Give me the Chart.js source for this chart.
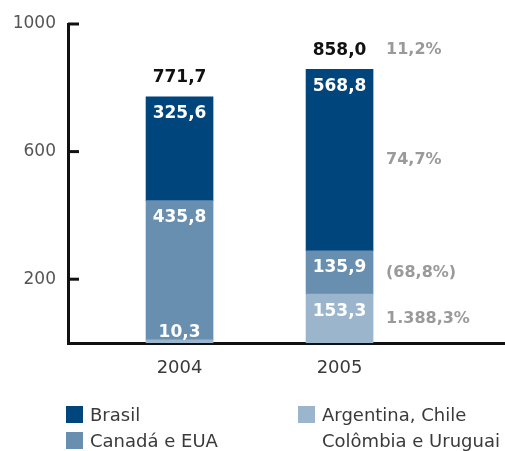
<!DOCTYPE html>
<html>
<head>
<meta charset="utf-8">
<script src="https://cdn.jsdelivr.net/npm/chart.js@4.4.0/dist/chart.umd.min.js"></script>
<style>
  body { margin: 0; background: #fff; overflow: hidden; }
  #wrap { position: relative; width: 505px; height: 451px; }
  canvas { display: block; }
  #legend {
    position: absolute; left: 66px; top: 402px;
    display: grid; grid-template-columns: 232px auto; grid-template-rows: 26px 26px;
    grid-auto-flow: column;
    font: 18px "DejaVu Sans", sans-serif; color: #3a3a3a;
  }
  .item { display: flex; align-items: flex-start; line-height: 26px; white-space: pre; }
  .item.tall { grid-row: span 2; }
  .box { width: 17px; height: 17px; margin: 4px 7px 0 0; flex: none; }
</style>
</head>
<body>
<div id="wrap">
  <canvas id="chart" width="505" height="451"></canvas>
  <div id="legend"></div>
</div>
<script>
const years = ["2004", "2005"];
const brasil = [325.6, 568.8];
const canadaEua = [435.8, 135.9];
const argentinaChile = [10.3, 153.3];
const seriesNames = ["Brasil", "Canadá e EUA", "Argentina, Chile\nColômbia e Uruguai"];
const seriesColors = ["#00457c", "#688eb0", "#9bb5cd"];
const growthLabels = ["74,7%", "(68,8%)", "1.388,3%"]; // 2005 vs 2004, same order as seriesNames
const totalGrowth = "11,2%";
const yTicks = [200, 600, 1000];

const seriesValues = [brasil, canadaEua, argentinaChile];
const fmt = v => v.toFixed(1).replace(".", ",");

// stack bottom -> top: Argentina..., Canadá e EUA, Brasil
const datasets = [2, 1, 0].map(k => ({
  label: seriesNames[k],
  data: seriesValues[k].map((v, i) => ({ x: i, y: v })),
  backgroundColor: seriesColors[k],
  growth: growthLabels[k],
  barThickness: 67
}));

// value labels, growth % and totals
const labelPlugin = {
  id: "barLabels",
  afterDatasetsDraw(chart) {
    const ctx = chart.ctx;
    ctx.save();
    ctx.textBaseline = "middle";
    chart.data.datasets.forEach((ds, d) => {
      chart.getDatasetMeta(d).data.forEach((bar, i) => {
        ctx.fillStyle = "#fff";
        ctx.textAlign = "center";
        ctx.font = 'bold 17px "DejaVu Sans"';
        ctx.fillText(fmt(ds.data[i].y), bar.x, Math.min(bar.y + 17, bar.base - 10));
        if (i === years.length - 1) {
          ctx.fillStyle = "#9a9a9a";
          ctx.textAlign = "left";
          ctx.font = 'bold 16px "DejaVu Sans"';
          ctx.fillText(ds.growth, bar.x + bar.width / 2 + 13, (bar.y + bar.base) / 2);
        }
      });
    });
    const topMeta = chart.getDatasetMeta(chart.data.datasets.length - 1);
    years.forEach((_, i) => {
      const total = seriesValues.reduce((s, arr) => s + arr[i], 0);
      const bar = topMeta.data[i];
      const y = bar.y - 19;
      ctx.fillStyle = "#111";
      ctx.textAlign = "center";
      ctx.font = 'bold 17px "DejaVu Sans"';
      ctx.fillText(fmt(total), bar.x, y);
      if (i === years.length - 1) {
        ctx.fillStyle = "#9a9a9a";
        ctx.textAlign = "left";
        ctx.font = 'bold 16px "DejaVu Sans"';
        ctx.fillText(totalGrowth, bar.x + bar.width / 2 + 13, y);
      }
    });
    ctx.restore();
  }
};

// inward tick marks on the y axis
const tickPlugin = {
  id: "innerTicks",
  afterDraw(chart) {
    const ctx = chart.ctx;
    const y = chart.scales.y;
    ctx.save();
    ctx.strokeStyle = "#111";
    ctx.lineWidth = 3;
    yTicks.forEach(v => {
      const py = y.getPixelForValue(v);
      ctx.beginPath();
      ctx.moveTo(y.right, py);
      ctx.lineTo(y.right + 11, py);
      ctx.stroke();
    });
    ctx.restore();
  }
};

new Chart(document.getElementById("chart"), {
  type: "bar",
  data: { datasets },
  options: {
    responsive: false,
    animation: false,
    layout: { padding: { top: 24, right: 0, bottom: 0, left: 0 } },
    plugins: { legend: { display: false }, tooltip: { enabled: false } },
    scales: {
      x: {
        type: "linear",
        stacked: true,
        offset: false,
        bounds: "data",
        min: -0.697,
        max: 2.034,
        afterBuildTicks: s => { s.ticks = years.map((_, i) => ({ value: i })); },
        afterFit: s => { s.height = 108; },
        grid: { display: false, drawTicks: false, offset: false },
        border: { color: "#111", width: 3 },
        ticks: {
          callback: v => years[v],
          color: "#3a3a3a",
          font: { family: "DejaVu Sans", size: 18 },
          padding: 15,
          maxRotation: 0
        }
      },
      y: {
        stacked: true,
        min: 0,
        max: 1000,
        afterBuildTicks: s => { s.ticks = yTicks.map(v => ({ value: v })); },
        afterFit: s => { s.width = 68; },
        grid: { display: false, drawTicks: false },
        border: { color: "#111", width: 3 },
        ticks: {
          callback: v => String(v),
          color: "#555",
          font: { family: "DejaVu Sans", size: 17 },
          padding: 12
        }
      }
    }
  },
  plugins: [labelPlugin, tickPlugin]
});

// legend
const legend = document.getElementById("legend");
seriesNames.forEach((name, k) => {
  const item = document.createElement("div");
  item.className = "item" + (name.includes("\n") ? " tall" : "");
  item.innerHTML = `<span class="box" style="background:${seriesColors[k]}"></span><span></span>`;
  item.lastChild.textContent = name;
  legend.appendChild(item);
});
</script>
</body>
</html>
